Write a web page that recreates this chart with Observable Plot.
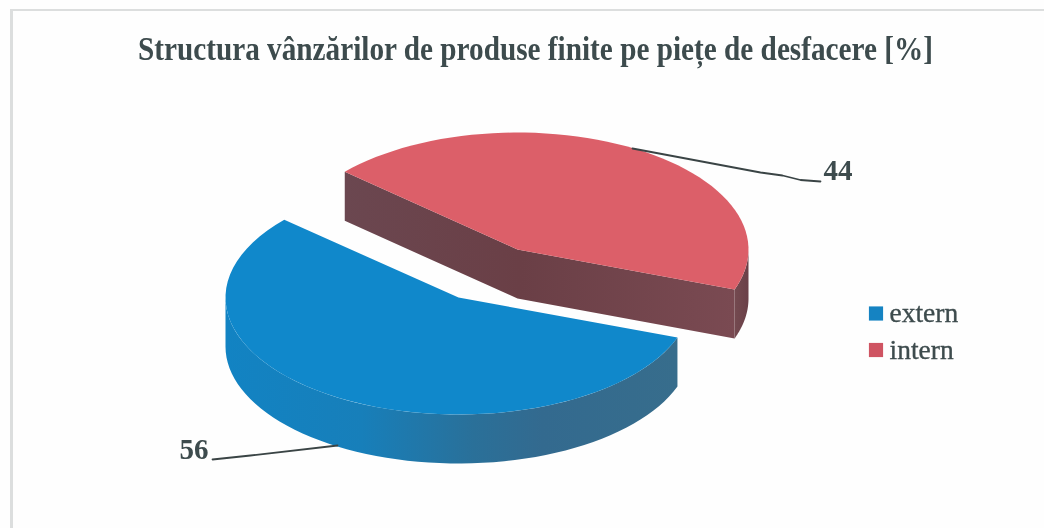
<!DOCTYPE html>
<html>
<head>
<meta charset="utf-8">
<script src="https://cdn.jsdelivr.net/npm/d3@7"></script>
<script src="https://cdn.jsdelivr.net/npm/@observablehq/plot@0.6"></script>
<style>
  html, body { margin: 0; padding: 0; background: #fefefe; }
  #page { position: relative; width: 1044px; height: 528px; overflow: hidden; filter: blur(0.45px); }
  #frame { position: absolute; left: 10px; top: 9px; width: 1040px; height: 530px; border-left: 3px solid #dcdede; border-top: 2px solid #dcdede; box-sizing: border-box; }
  #title { position: absolute; left: 138px; top: 24px; height: 50px; line-height: 50px; white-space: nowrap; transform-origin: 0 50%; transform: scaleX(0.886);
           font-family: "Liberation Serif", serif; font-weight: bold; font-size: 33px; color: #3d4b4d; }
  #chart { position: absolute; left: 0; top: 80px; }
  svg { background: transparent !important; }
</style>
</head>
<body>
<div id="page">
  <div id="frame"></div>
  <div id="title">Structura vânzărilor de produse finite pe piețe de desfacere [%]</div>
  <div id="chart"></div>
</div>
<script>
const categories = ["extern", "intern"];
const shares = [56, 44];
const topColors = ["#1088cb", "#dc5f69"];
const legendColors = ["#1583c2", "#cf5462"];
const ink = "#3d4b4d";

// pie layout, in the chart's coordinate system
const startAngle = 20, thick = 49;
const pies = [
  {cx: 458, cy: 297, rx: 233, ry: 117},
  {cx: 517, cy: 249, rx: 231, ry: 117}
];
const rad = d => d * Math.PI / 180;
const rim = (p, a, dz = 0) => ({x: p.cx + p.rx * Math.cos(rad(a)), y: p.cy + p.ry * Math.sin(rad(a)) + dz});
const arc = (p, a0, a1, dz = 0) => d3.range(0, 61).map(i => rim(p, a0 + (a1 - a0) * i / 60, dz));

const total = d3.sum(shares);
let cum = startAngle;
const slices = shares.map((v, i) => {
  const a0 = cum, a1 = cum + v / total * 360;
  cum = a1;
  return {name: categories[i], a0, a1, p: pies[i]};
});
const [blue, red] = slices;
const apex = (p, dz = 0) => ({x: p.cx, y: p.cy + dz});

const blueTop = [apex(blue.p), ...arc(blue.p, blue.a0, blue.a1)];
const blueWall = [...arc(blue.p, blue.a0, 180), ...arc(blue.p, 180, blue.a0, thick)];
const redTop = [apex(red.p), ...arc(red.p, red.a0, red.a1)];
const redCut = [rim(red.p, red.a0), apex(red.p), rim(red.p, red.a1),
                rim(red.p, red.a1, thick), apex(red.p, thick), rim(red.p, red.a0, thick)];
const redRim = [...arc(red.p, 360, red.a1), ...arc(red.p, red.a1, 360, thick)];

const leaders = [
  [{x: 632, y: 148}, {x: 760, y: 172}, {x: 782, y: 175}, {x: 800, y: 179.5}, {x: 820, y: 181}],
  [{x: 337, y: 445}, {x: 250, y: 455}, {x: 212, y: 459}]
];
const labels = [{text: "56", x: 179, y: 449}, {text: "44", x: 823, y: 170}];
const legendRows = categories.map((name, i) => ({name, color: legendColors[i], y: 313 + i * 36.5}));

function gradients() {
  const NS = "http://www.w3.org/2000/svg";
  const defs = document.createElementNS(NS, "defs");
  const add = (id, stops) => {
    const g = document.createElementNS(NS, "linearGradient");
    g.setAttribute("id", id);
    stops.forEach(([o, c]) => {
      const s = document.createElementNS(NS, "stop");
      s.setAttribute("offset", o); s.setAttribute("stop-color", c);
      g.appendChild(s);
    });
    defs.appendChild(g);
  };
  add("blueSide", [[0, "#1283c3"], [0.3, "#177fba"], [0.55, "#2a7099"], [0.7, "#336a8f"], [1, "#376d8c"]]);
  add("redSide", [[0, "#6b4750"], [0.45, "#6a3f46"], [1, "#7a4a52"]]);
  add("redEnd", [[0, "#744a50"], [1, "#6a4048"]]);
  return defs;
}

const face = (pts, fill) => Plot.line(pts, {x: "x", y: "y", fill, stroke: "none", curve: "linear"});

const plot = Plot.plot({
  width: 1044, height: 448,
  margin: 0,
  x: {domain: [0, 1044], range: [0, 1044], axis: null},
  y: {domain: [80, 528], range: [0, 448], axis: null},
  style: {background: "transparent"},
  marks: [
    gradients,
    face(redCut, "url(#redSide)"),
    face(redRim, "url(#redEnd)"),
    face(redTop, topColors[1]),
    face(blueWall, "url(#blueSide)"),
    face(blueTop, topColors[0]),
    ...leaders.map(l => Plot.line(l, {x: "x", y: "y", stroke: "#3a4445", strokeWidth: 1.8, curve: "linear"})),
    Plot.text(labels, {x: "x", y: "y", text: "text", textAnchor: "start", fill: ink,
      fontFamily: "Liberation Serif", fontWeight: "bold", fontSize: 29}),
    Plot.dot(legendRows, {x: () => 875.5, y: "y", symbol: "square", r: 8, fill: "color", stroke: "none"}),
    Plot.text(legendRows, {x: () => 889, y: "y", text: "name", textAnchor: "start", fill: ink,
      stroke: ink, strokeWidth: 0.35, fontFamily: "Liberation Serif", fontSize: 27.5})
  ]
});
document.getElementById("chart").appendChild(plot);
</script>
</body>
</html>
